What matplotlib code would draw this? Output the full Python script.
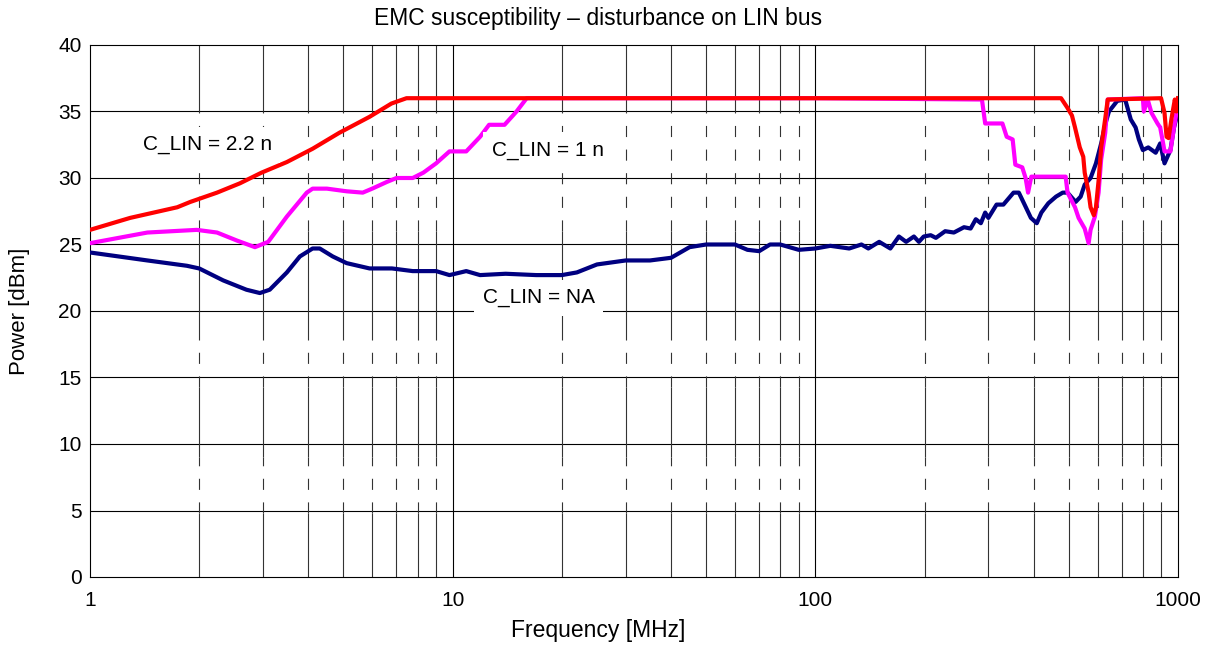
import numpy as np
import matplotlib.pyplot as plt

plt.rcParams['font.family'] = ['Liberation Sans', 'DejaVu Sans']
plt.rcParams['lines.scale_dashes'] = False

# C_LIN = NA
f_na = [1.0, 1.44, 1.85, 2.0, 2.33, 2.7, 2.94, 3.13, 3.49, 3.79, 4.11, 4.3, 4.67, 5.1, 5.9,
        6.8, 7.76, 9.0, 9.8, 10.9, 11.9, 14, 17, 20, 22, 25, 30, 35, 40, 45, 50, 60, 65, 70,
        75, 80, 90, 100, 110, 124, 134, 140, 150, 161, 170, 178, 187, 193, 199, 208, 215,
        228, 241, 257, 268, 277, 286, 294, 300, 316, 330, 352, 364, 376, 393, 408, 420,
        439, 461, 481, 496, 522, 539, 553, 574, 594, 614, 631, 645, 680, 715, 741, 764,
        780, 800, 828, 868, 893, 918, 953, 975, 1000]
p_na = [24.4, 23.8, 23.4, 23.2, 22.3, 21.6, 21.35, 21.6, 22.9, 24.1, 24.7, 24.7, 24.1, 23.6,
        23.2, 23.2, 23.0, 23.0, 22.7, 23.0, 22.7, 22.8, 22.7, 22.7, 22.9, 23.5, 23.8, 23.8,
        24.0, 24.8, 25.0, 25.0, 24.6, 24.5, 25.0, 25.0, 24.6, 24.7, 24.9, 24.7, 25.0, 24.7,
        25.2, 24.7, 25.6, 25.2, 25.6, 25.2, 25.6, 25.7, 25.5, 26.0, 25.9, 26.3, 26.2, 26.9,
        26.6, 27.4, 27.0, 28.0, 28.0, 28.9, 28.9, 28.1, 27.0, 26.6, 27.4, 28.1, 28.6, 28.9,
        28.9, 28.2, 28.6, 29.5, 30.0, 31.1, 32.6, 34.1, 35.0, 35.8, 35.9, 34.4, 33.8, 32.9,
        32.1, 32.3, 31.9, 32.6, 31.1, 32.1, 33.8, 35.0]

# C_LIN = 1 n
f_1n = [1.0, 1.44, 1.97, 2.24, 2.54, 2.85, 3.1, 3.49, 3.96, 4.11, 4.5, 5.1, 5.65, 6.0, 6.58,
        7.0, 7.76, 8.3, 9.0, 9.8, 10.9, 11.9, 12.6, 13.9, 15.0, 16.0, 100, 288, 294, 328,
        337, 350, 356, 372, 380, 386, 394, 490, 496, 520, 532, 553, 567, 574, 590, 604,
        614, 630, 640, 800, 805, 825, 845, 878, 893, 910, 918, 953, 975, 1000]
p_1n = [25.1, 25.9, 26.1, 25.9, 25.3, 24.8, 25.2, 27.1, 28.9, 29.2, 29.2, 29.0, 28.9, 29.2,
        29.7, 30.0, 30.0, 30.4, 31.1, 32.0, 32.0, 33.1, 34.0, 34.0, 35.0, 36.0, 36.0, 35.9,
        34.1, 34.1, 33.1, 32.9, 31.0, 30.8, 30.0, 28.9, 30.1, 30.1, 28.9, 27.8, 27.0, 26.2,
        25.1, 26.1, 27.1, 28.9, 31.4, 33.4, 35.9, 36.0, 35.0, 35.9, 34.9, 34.1, 33.8, 32.6,
        32.0, 32.0, 33.8, 35.6]

# C_LIN = 2.2 n
f_22n = [1.0, 1.29, 1.74, 1.89, 2.24, 2.59, 2.97, 3.49, 4.11, 4.87, 5.9, 6.78, 7.46, 100,
         476, 495, 510, 520, 536, 548, 553, 567, 574, 586, 594, 604, 614, 631, 640, 898,
         918, 930, 942, 960, 980, 990, 1000]
p_22n = [26.1, 27.0, 27.8, 28.2, 28.9, 29.6, 30.4, 31.2, 32.2, 33.4, 34.6, 35.6, 36.0, 36.0,
         36.0, 35.3, 34.7, 33.8, 32.3, 31.6, 30.4, 28.9, 27.8, 27.2, 27.8, 29.8, 32.3, 34.6,
         35.9, 36.0, 34.9, 33.1, 33.0, 34.5, 35.9, 35.0, 36.0]

fig = plt.figure(figsize=(12.14, 6.45), dpi=100)
ax = fig.add_axes([90 / 1214, 1 - 577 / 645, 1088 / 1214, 532 / 645])
ax.set_xscale('log')
ax.set_xlim(1, 1000)
ax.set_ylim(0, 40)

# grid
for y in range(5, 40, 5):
    ax.axhline(y, color='black', lw=0.8, zorder=1)
for x in [10, 100]:
    ax.axvline(x, color='black', lw=0.8, zorder=1)
minor = [k * 10 ** d for d in range(3) for k in range(2, 10)]
solid = [(0, 4.8), (9.0, 14.3), (17.8, 26.0), (35.0, 40)]
dashed = [(4.8, 9.0), (14.3, 17.8), (26.0, 35.0)]
for a, b in solid:
    ax.vlines(minor, a, b, color='#333333', lw=0.8, zorder=1)
for a, b in dashed:
    ax.vlines(minor, a, b, color='#333333', lw=0.8, linestyles=(0, (8, 9)), zorder=1)

ax.plot(f_na, p_na, color='#000080', lw=3, zorder=3)
ax.plot(f_1n, p_1n, color='#ff00ff', lw=3, zorder=4)
ax.plot(f_22n, p_22n, color='#ff0000', lw=3, zorder=5)

box = dict(facecolor='white', edgecolor='none', pad=6)
ax.text(1.40, 32.5, 'C_LIN = 2.2 n', fontsize=15, va='center', bbox=box, zorder=6)
ax.text(12.8, 32.1, 'C_LIN = 1 n', fontsize=15, va='center', bbox=box, zorder=6)
ax.text(12.1, 21.0, 'C_LIN = NA', fontsize=15, va='center', bbox=box, zorder=6)

ax.set_yticks(range(0, 41, 5))
ax.set_xticks([1, 10, 100, 1000])
ax.set_xticklabels(['1', '10', '100', '1000'])
ax.xaxis.set_minor_locator(plt.NullLocator())
ax.tick_params(length=0, labelsize=15)
ax.tick_params(axis='x', pad=10)
ax.tick_params(axis='y', pad=6)
for s in ax.spines.values():
    s.set_linewidth(0.8)

fig.text(598 / 1214, 1 - 18 / 645, 'EMC susceptibility \u2013 disturbance on LIN bus',
         ha='center', va='center', fontsize=16.5)
fig.text(598 / 1214, 1 - 630 / 645, 'Frequency [MHz]', ha='center', va='center', fontsize=16.5)
fig.text(20 / 1214, 1 - 311 / 645, 'Power [dBm]', ha='center', va='center',
         rotation=90, fontsize=16)

fig.savefig('out.png', dpi=100)
